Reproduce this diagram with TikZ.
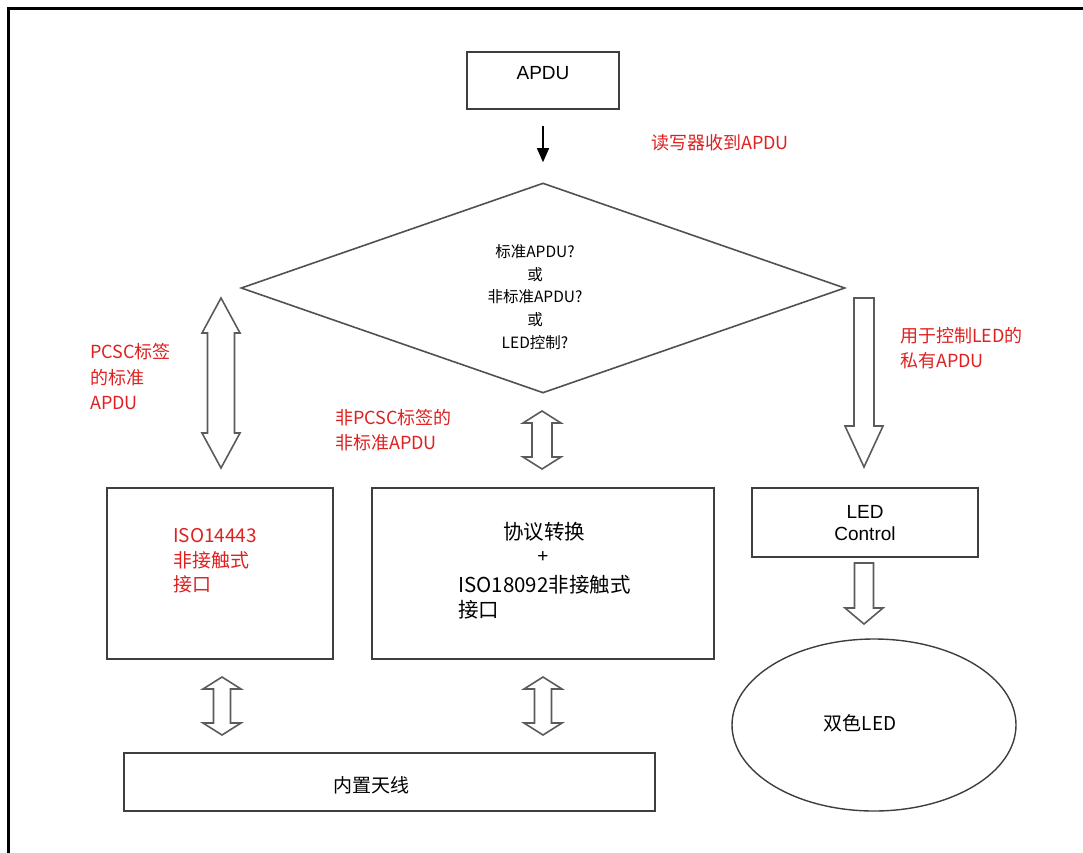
\documentclass[tikz,border=0pt]{standalone}
\usepackage{fontspec}
\setmainfont{Liberation Sans}
\newfontfamily\cjk{Noto Sans CJK SC}
\usetikzlibrary{shapes.geometric,arrows.meta}
\definecolor{lab}{RGB}{222,32,32}
\definecolor{ln}{RGB}{62,62,62}
\newcommand\fatdbl[6]{% cx, ytop, ybot, head half width, shaft half width, head length
  \draw[fat] (#1,#2) -- ({#1+#4},{#2+#6}) -- ({#1+#5},{#2+#6}) -- ({#1+#5},{#3-#6}) -- ({#1+#4},{#3-#6}) -- (#1,#3)
    -- ({#1-#4},{#3-#6}) -- ({#1-#5},{#3-#6}) -- ({#1-#5},{#2+#6}) -- ({#1-#4},{#2+#6}) -- cycle;}
\newcommand\fatdown[6]{%
  \draw[fat] ({#1-#5},#2) -- ({#1+#5},#2) -- ({#1+#5},{#3-#6}) -- ({#1+#4},{#3-#6}) -- (#1,#3)
    -- ({#1-#4},{#3-#6}) -- ({#1-#5},{#3-#6}) -- cycle;}
\begin{document}
\begin{tikzpicture}[x=1pt,y=-1pt,
  box/.style={draw=ln, line width=1.9pt, inner sep=0pt},
  fat/.style={draw=ln!85, line width=1.6pt, line join=miter},
  redlbl/.style={text=lab, font=\cjk\fontsize{18}{25.5}\selectfont, align=left, anchor=west, inner sep=0pt},
  cn/.style={font=\cjk\fontsize{19}{25}\selectfont, inner sep=0pt},
  en/.style={font=\fontsize{19}{22}\selectfont, inner sep=0pt},
  thinarrow/.style={draw=black, line width=1.3pt, -{Triangle[length=14pt,width=12pt]}},
]
\useasboundingbox (0,0) rectangle (1083,852);
% outer frame
\draw[line width=2.8pt, line join=miter] (8.7,860) -- (8.7,8.7) -- (1090,8.7);

% APDU box
\node[box, minimum width=152, minimum height=57] (apdu) at (543,80.5) {};
\node[en] (apdutxt) at (543,73) {APDU};

% decision diamond
\node[draw=ln!90, line width=1.6pt, shape=diamond, minimum width=604, minimum height=210, inner sep=0pt] (dia) at (543,288) {};
\node[font=\cjk\fontsize{15.5}{22.7}\selectfont, align=center, inner sep=0pt] (diatxt) at (535,297)
  {标准APDU?\\或\\非标准APDU?\\或\\LED控制?};

\draw[thinarrow] ([yshift=-16pt]apdu.south) -- ([yshift=20pt]dia.north);
\node[redlbl] (lblread) at (651,143) {读写器收到APDU};

% boxes
\node[box, minimum width=226, minimum height=171] (iso1) at (220,573.5) {};
\node[box, minimum width=342, minimum height=171] (proto) at (543,573.5) {};
\node[box, minimum width=226, minimum height=69] (led) at (865,522.5) {};
\node[box, minimum width=531, minimum height=58] (ant) at (389.5,782) {};
\node[draw=ln, line width=1.4pt, shape=ellipse, minimum width=284, minimum height=172, inner sep=0pt] (bled) at (874,725) {};

% box texts
\node[redlbl, font=\cjk\fontsize{19}{24.5}\selectfont] (iso1txt) at (173,561) {ISO14443\\非接触式\\接口};
\node[cn, font=\cjk\fontsize{20.5}{25}\selectfont] (prototxt) at (544,532) {协议转换};
\node[en] (plus) at (543,557) {+};
\node[cn, font=\cjk\fontsize{20.5}{25}\selectfont, anchor=west, align=left] (iso2txt) at (458,597.5) {ISO18092非接触式\\接口};
\node[en, align=center] (ledtxt) at (865,523) {LED\\Control};
\node[cn] (anttxt) at (371,785) {内置天线};
\node[cn] (bledtxt) at (860,723) {双色LED};

% red labels
\node[redlbl] (lblpcsc) at (90,377) {PCSC标签\\的标准\\APDU};
\node[redlbl] (lblnon) at (335,430) {非PCSC标签的\\非标准APDU};
\node[redlbl] (lblled) at (900,348) {用于控制LED的\\私有APDU};

% block arrows
\fatdbl{221}{298}{468}{19}{13.5}{35}
\fatdbl{542}{411}{469}{19}{10}{12}
\fatdown{864}{298}{467}{19}{10}{41}
\fatdbl{222}{677}{735}{19}{8.5}{12}
\fatdbl{543}{677}{735}{19}{8.5}{12}
\fatdown{864}{563}{624}{19}{9.5}{16}
\end{tikzpicture}
\end{document}
